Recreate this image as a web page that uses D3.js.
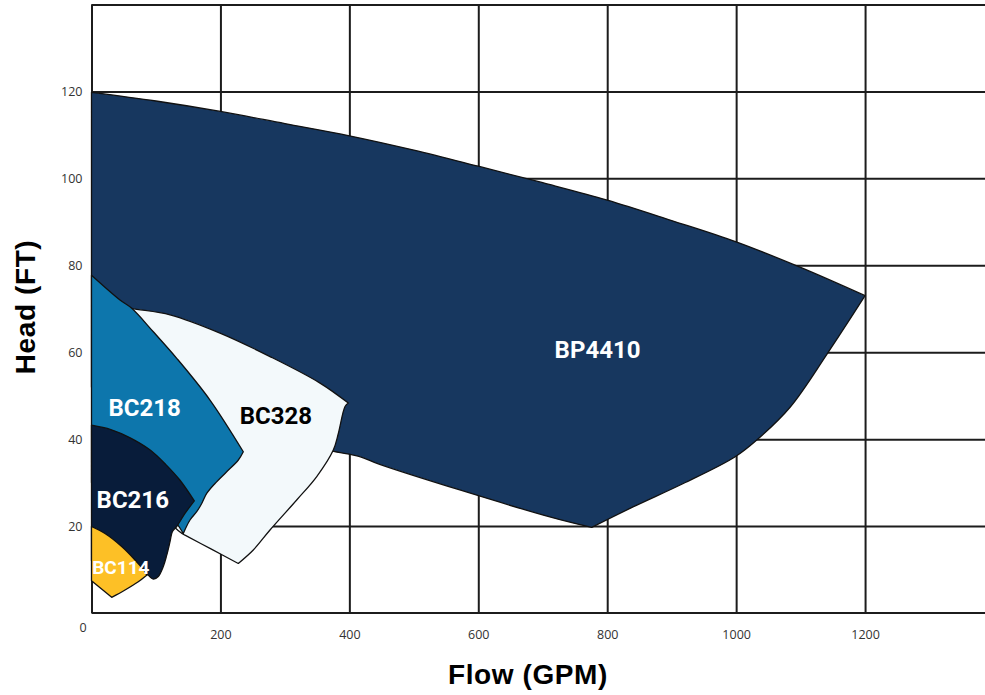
<!DOCTYPE html>
<html>
<head>
<meta charset="utf-8">
<script src="https://cdn.jsdelivr.net/npm/d3@7"></script>
<style>
  html, body { margin: 0; padding: 0; background: #ffffff; }
  svg { display: block; }
</style>
</head>
<body>
<svg id="chart" width="985" height="695"></svg>
<script>
// ---------- data ----------
const xTicks = [0, 200, 400, 600, 800, 1000, 1200];
const yTicks = [20, 40, 60, 80, 100, 120, 140];
const xTickLabels = ["", "200", "400", "600", "800", "1000", "1200"];
const yTickLabels = ["20", "40", "60", "80", "100", "120", ""];
const models = ["BP4410", "BC328", "BC218", "BC216", "BC114"];
const modelColors = ["#17375f", "#f3f9fb", "#0d76ac", "#081c3a", "#fdc026"];
const labelColors = ["#ffffff", "#000000", "#ffffff", "#ffffff", "#ffffff"];
const labelAt = [[785, 60.6], [286, 45.5], [82.5, 47.3], [64, 26.1], [45.5, 10.6]]; // [GPM, FT]
const labelSize = [24, 24, 24, 24, 19];

// operating envelope edges [GPM, FT]
const bp4410Top = [[0,119.8],[100,117.8],[200,115.4],[300,112.6],[400,109.8],[500,106.5],[600,102.8],
  [700,99],[800,95],[900,90.3],[1000,85.4],[1100,79.5],[1200,73]];
const bp4410Right = [[1200,73],[1142,59.8],[1084,47.4],[1032,39.8],[998,35.9],[918,29.8],[840,24.4],[776,19.7]];
const bp4410Bottom = [[776,19.7],[711,22.1],[447,34.2],[416,36],[372,37.3],[300,40],[150,46],[0,52]];

const bc328Top = [[45,70.8],[62.4,70.1],[121.8,68.6],[199.3,64.4],[276.9,59.0],[354.5,52.9],[398.4,48.3]];
const bc328Right = [[398.4,48.3],[393.3,47.5],[382.9,41.3],[375.1,37.5],[349.4,31.4],[318.3,26.0],
  [276.9,19.1],[251,14.5],[227.7,11.4]];
const bc328Bottom = [[227.7,11.4],[186,14.7],[145,17.9]];
const bc328Hidden = [[145,17.9],[128,20],[110,28],[80,50],[45,68]];

const bc218Right = [[0,77.7],[44.2,72.0],[62.4,70.1],[95.9,64.7],[132.2,58.6],[183.8,49.0],[235.5,37.1]];
const bc218Lower = [[235.5,37.1],[227.8,35.2],[209.7,32.5],[191.6,29.8],[178.7,27.5],[171,25.2],
  [163.2,23.3],[152.8,21.4],[142.4,18.3]];
const bc218Hidden = [[142.4,18.3],[132,20.6],[110,24],[0,30]];

const bc216Top = [[0,43.2],[30,42.2],[60,40.3],[90,37.6],[115,34.2],[137,30.6],[159.5,25.8]];
const bc216Lower = [[159.5,25.8],[145,22.9],[132.2,19.9],[125.4,18.7],[121.8,16.4],[116.7,13.3],
  [111.4,10.7],[103.6,8.4],[95.9,7.8],[88.1,8.7]];
const bc216Hidden = [[88.1,8.7],[70,9.5],[30,11],[0,12]];

const bc114Top = [[0,19.9],[20.9,18.3],[46.8,15.3],[67.5,12.2],[83,9.5],[85.6,8.7]];
const bc114Right = [[85.6,8.7],[72.6,7.2],[52,5.3],[31.3,3.6]];
const bc114Bottom = [[31.3,3.6],[0,7.4]];

const shapes = [
  [bp4410Top, bp4410Right, bp4410Bottom],
  [bc328Top, bc328Right, bc328Bottom, bc328Hidden],
  [bc218Right, bc218Lower, bc218Hidden],
  [bc216Top, bc216Lower, bc216Hidden],
  [bc114Top, bc114Right, bc114Bottom]
];

// ---------- layout ----------
const svg = d3.select("#chart");
const x = d3.scaleLinear().domain([0, 1400]).range([91.5, 994]);
const y = d3.scaleLinear().domain([0, 140]).range([613, 4.5]);
const gridColor = "#1c1c1c";

const yAxis = d3.axisLeft(y).tickValues(yTicks)
  .tickFormat((d, i) => yTickLabels[i])
  .tickSize(-(985 - 91.5)).tickPadding(9);
const gy = svg.append("g").attr("transform", `translate(${x(0)},0)`).call(yAxis);
gy.select(".domain").remove();
gy.selectAll(".tick line").attr("stroke", gridColor).attr("stroke-width", 2);
gy.selectAll(".tick text").attr("fill", "#333").style("font-family", "'Open Sans', sans-serif").style("font-size", "12.5px");

const xAxis = d3.axisBottom(x).tickValues(xTicks)
  .tickFormat((d, i) => xTickLabels[i])
  .tickSize(-(y(0) - y(140))).tickPadding(17);
const gx = svg.append("g").attr("transform", `translate(0,${y(0)})`).call(xAxis);
gx.select(".domain").remove();
gx.selectAll(".tick line").attr("stroke", gridColor).attr("stroke-width", 2);
gx.selectAll(".tick text").attr("fill", "#333").style("font-family", "'Open Sans', sans-serif").style("font-size", "12.5px");

svg.append("line").attr("x1", x(0)).attr("x2", 985).attr("y1", y(0)).attr("y2", y(0))
  .attr("stroke", gridColor).attr("stroke-width", 2);

svg.append("text").attr("x", 83).attr("y", 627.5).attr("dy", "0.35em").attr("text-anchor", "middle")
  .attr("fill", "#333").style("font-family", "'Open Sans', sans-serif").style("font-size", "12.5px").text("0");

// shapes: each edge is a smooth Catmull-Rom curve, edges joined with sharp corners
const edgeLine = d3.line().x(d => x(d[0])).y(d => y(d[1])).curve(d3.curveCatmullRom.alpha(0.5));
function shapePath(edges) {
  return edges.map((e, i) => {
    const s = edgeLine(e);
    return i === 0 ? s : s.replace(/^M/, "L");
  }).join("") + "Z";
}
svg.append("g").selectAll("path").data(shapes).join("path")
  .attr("d", shapePath)
  .attr("fill", (d, i) => modelColors[i])
  .attr("stroke", "#111")
  .attr("stroke-width", 1.3)
  .attr("stroke-linejoin", "round");

svg.append("g").selectAll("text").data(models).join("text")
  .attr("x", (d, i) => x(labelAt[i][0]))
  .attr("y", (d, i) => y(labelAt[i][1]))
  .attr("dy", "0.36em")
  .attr("text-anchor", "middle")
  .attr("fill", (d, i) => labelColors[i])
  .style("font-family", "Roboto, sans-serif")
  .style("font-weight", "700")
  .style("font-size", (d, i) => labelSize[i] + "px")
  .text(d => d);

svg.append("text").attr("x", 528).attr("y", 684).attr("text-anchor", "middle")
  .style("font-family", "'Liberation Sans', Arial, sans-serif").style("font-weight", "900")
  .style("font-size", "28px").style("letter-spacing", "0.6px").attr("fill", "#000")
  .text("Flow (GPM)");
svg.append("text").attr("transform", "translate(35,307) rotate(-90)").attr("text-anchor", "middle")
  .style("font-family", "'Liberation Sans', Arial, sans-serif").style("font-weight", "900")
  .style("font-size", "28px").style("letter-spacing", "0.6px").attr("fill", "#000")
  .text("Head (FT)");
</script>
</body>
</html>
